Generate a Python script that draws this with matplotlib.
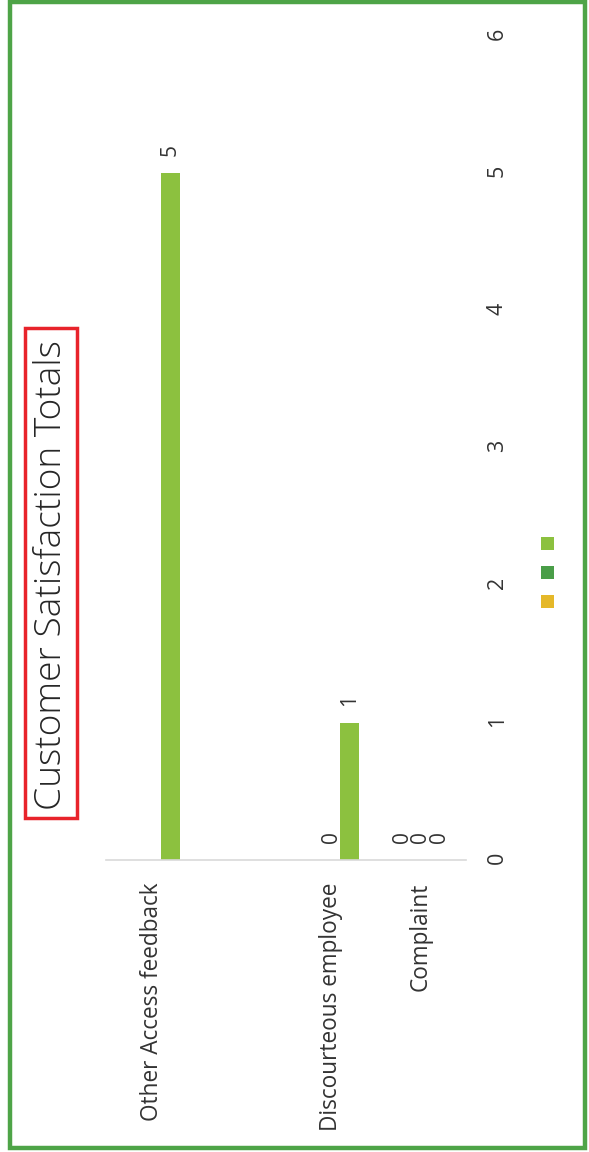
import numpy as np
import matplotlib
matplotlib.use("Agg")
import matplotlib.pyplot as plt
from matplotlib.patches import Rectangle

# ---- data -------------------------------------------------------------
categories = ["Other Access feedback", "Discourteous employee", "Complaint"]
category_pos = [0, 2, 3]
yellow_vals = [np.nan, np.nan, 0]
dark_green_vals = [np.nan, 0, 0]
light_green_vals = [5, 1, 0]
value_ticks = [0, 1, 2, 3, 4, 5, 6]
title = "Customer Satisfaction Totals"

# ---- style ------------------------------------------------------------
FONT = ["Open Sans", "DejaVu Sans"]
TEXT = "#333333"
YELLOW, DARK_GREEN, LIGHT_GREEN = "#E5B829", "#4A9E48", "#8CC13F"
FRAME_GREEN = "#4EA447"

W, H = 589, 1152
fig = plt.figure(figsize=(W / 100, H / 100), dpi=100)


def fx(px):
    return px / W


def fy(py):
    return 1 - py / H


ax = fig.add_axes([fx(106), fy(860), fx(466) - fx(106), fy(35.6) - fy(860)])

bar_w = 0.207
series = [
    (yellow_vals, YELLOW, -bar_w),
    (dark_green_vals, DARK_GREEN, 0.0),
    (light_green_vals, LIGHT_GREEN, bar_w),
]
for vals, color, offset in series:
    vals = np.asarray(vals, dtype=float)
    keep = ~np.isnan(vals)
    xs = np.asarray(category_pos, dtype=float)[keep] + offset
    bars = ax.bar(xs, vals[keep], width=bar_w, color=color, linewidth=0)
    ax.bar_label(bars, labels=[f"{v:g}" for v in vals[keep]], padding=12,
                 rotation=90, fontsize=15, color=TEXT, family=FONT)

ax.set_xlim(-0.514, 3.508)
ax.set_ylim(0, 6)

ax.set_xticks(category_pos)
ax.set_xticklabels(categories, rotation=90, fontsize=16.3, color=TEXT, family=FONT)
ax.tick_params(axis="x", length=0, pad=16)

ax.yaxis.tick_right()
ax.set_yticks(value_ticks)
ax.set_yticklabels([str(v) for v in value_ticks], rotation=90, fontsize=15.5,
                   color=TEXT, family=FONT)
ax.tick_params(axis="y", length=0, pad=15)

for side in ("top", "left", "right"):
    ax.spines[side].set_visible(False)
ax.spines["bottom"].set_color("#D9D9D9")
ax.spines["bottom"].set_linewidth(1.2)

# title with red outline box
fig.text(fx(52), fy(575), title, rotation=90, ha="center", va="center",
         fontsize=26.7, color="#262626", family=FONT, fontweight="light")
fig.add_artist(Rectangle((fx(25), fy(818)), fx(77) - fx(25), fy(328) - fy(818),
                         transform=fig.transFigure, fill=False,
                         edgecolor="#E8232B", linewidth=2.5))

# legend swatches
for cy, color in zip([543.5, 572.5, 601.5], [LIGHT_GREEN, DARK_GREEN, YELLOW]):
    fig.add_artist(Rectangle((fx(541), fy(cy + 6.5)), fx(554) - fx(541),
                             fy(cy - 6.5) - fy(cy + 6.5),
                             transform=fig.transFigure, facecolor=color,
                             edgecolor="none"))

# outer green frame
fig.add_artist(Rectangle((fx(9.5), fy(1148)), fx(585) - fx(9.5), fy(1.5) - fy(1148),
                         transform=fig.transFigure, fill=False,
                         edgecolor=FRAME_GREEN, linewidth=3.2))

fig.savefig("out.png", dpi=100)
